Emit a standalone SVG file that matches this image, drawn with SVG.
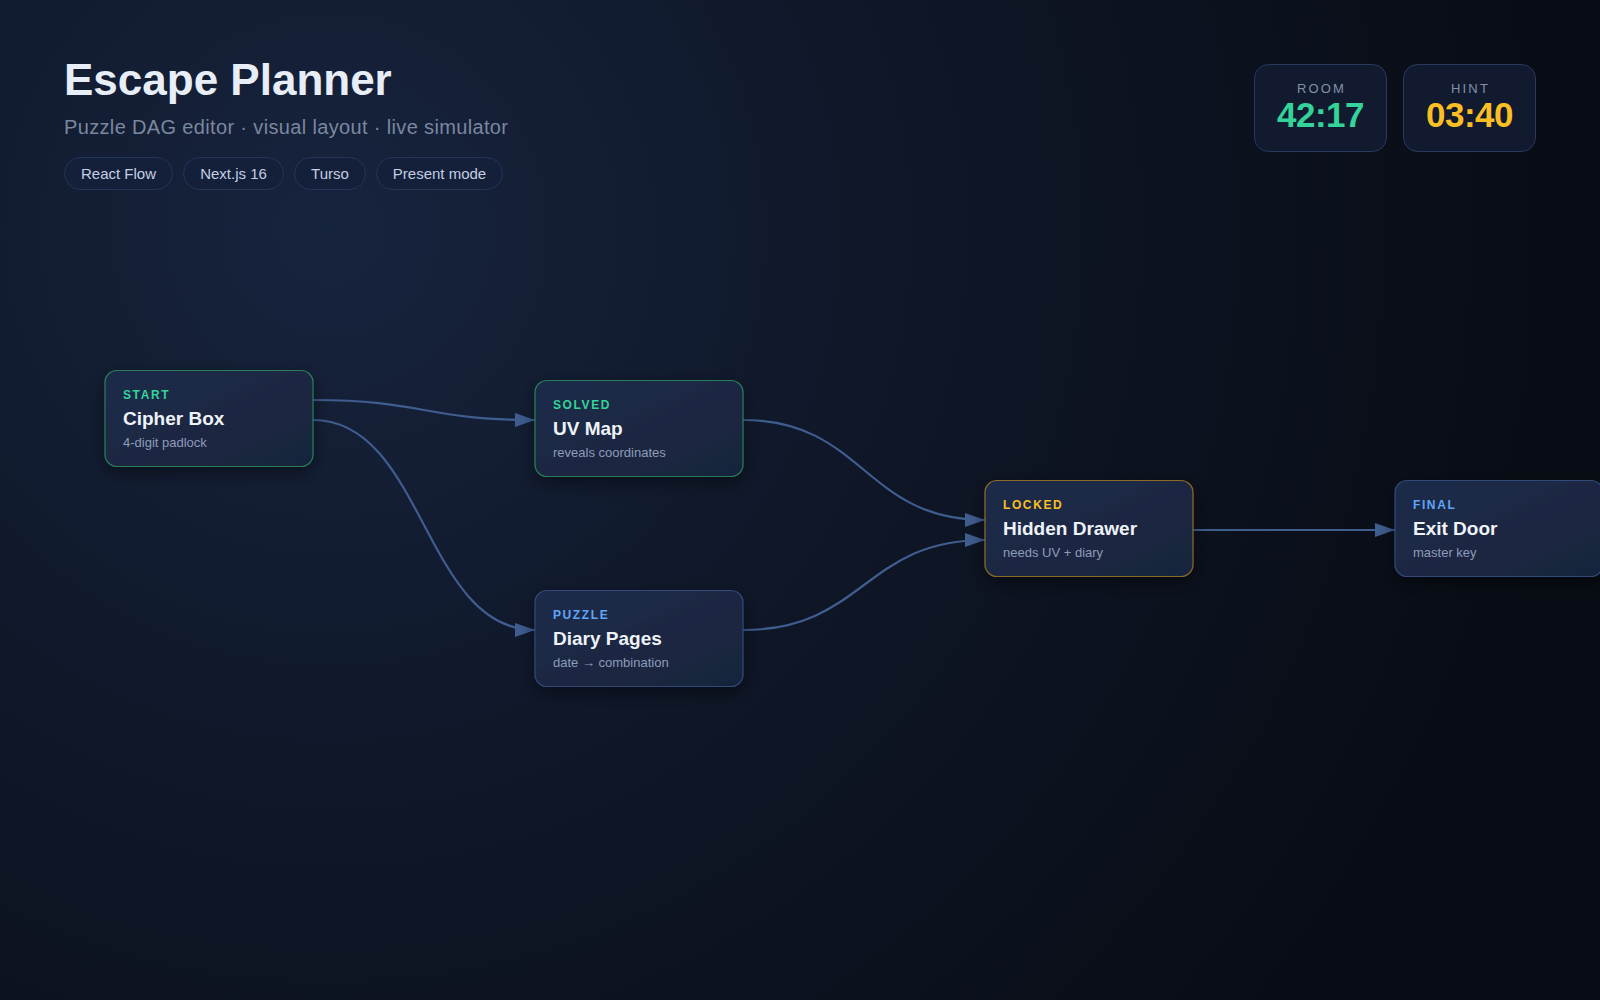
<svg xmlns="http://www.w3.org/2000/svg" width="1600" height="1000" viewBox="0 0 1600 1000">
  <defs>
    <radialGradient id="bg" cx="330" cy="230" r="1250" gradientUnits="userSpaceOnUse">
      <stop offset="0" stop-color="#17243e"/>
      <stop offset="0.45" stop-color="#0f1728"/>
      <stop offset="1" stop-color="#080c14"/>
    </radialGradient>
    <linearGradient id="nodeFill" x1="0" y1="0" x2="1" y2="1">
      <stop offset="0" stop-color="#1f2c4a"/>
      <stop offset="1" stop-color="#18243b"/>
    </linearGradient>
    <filter id="shadow" x="-30%" y="-40%" width="160%" height="190%">
      <feDropShadow dx="0" dy="6" stdDeviation="9" flood-color="#000000" flood-opacity="0.45"/>
    </filter>
    <marker id="arrow" markerUnits="userSpaceOnUse" markerWidth="21" markerHeight="15" refX="20" refY="7.5" orient="auto">
      <path d="M0,0.5 L20,7.5 L0,14.5 z" fill="#3f5d8f"/>
    </marker>
    <style>
      .title { font-family: "Liberation Sans", Arial, Helvetica, sans-serif; font-weight: 700; font-size: 44px; fill: #e8eef8; }
      .subtitle { font-family: "Liberation Sans", Arial, Helvetica, sans-serif; font-size: 20px; letter-spacing: 0.35px; fill: #7a879f; }
      .pill rect { fill: #14203a; stroke: #24345a; stroke-width: 1; }
      .pill text { font-family: "Liberation Sans", Arial, Helvetica, sans-serif; font-size: 15px; fill: #c3cee2; text-anchor: middle; }
      .timer rect { fill: #111a2e; stroke: #2a3a5f; stroke-width: 1; }
      .tlabel { font-family: "Liberation Sans", Arial, Helvetica, sans-serif; font-size: 13px; letter-spacing: 2.2px; fill: #8391ab; text-anchor: middle; }
      .tval { font-family: "Liberation Sans", Arial, Helvetica, sans-serif; font-size: 35px; font-weight: 700; letter-spacing: -0.5px; text-anchor: middle; }
      .node rect { fill: url(#nodeFill); stroke-width: 1.2; filter: url(#shadow); }
      .green rect { stroke: #2a7d57; }
      .amber rect { stroke: #8c6a27; }
      .blue rect { stroke: #30497a; }
      .nlabel { font-family: "Liberation Sans", Arial, Helvetica, sans-serif; font-size: 12px; font-weight: 700; letter-spacing: 1.6px; }
      .green .nlabel { fill: #34d399; }
      .amber .nlabel { fill: #fbbf24; }
      .blue .nlabel { fill: #60a5fa; }
      .ntitle { font-family: "Liberation Sans", Arial, Helvetica, sans-serif; font-size: 19px; font-weight: 700; fill: #eef2f9; }
      .nsub { font-family: "Liberation Sans", Arial, Helvetica, sans-serif; font-size: 13px; fill: #8c9cba; }
      .edge { fill: none; stroke: #3f5d8f; stroke-width: 2.2; marker-end: url(#arrow); }
    </style>
  </defs>

  <rect x="0" y="0" width="1600" height="1000" fill="url(#bg)"/>

  <g id="header">
    <text class="title" x="64" y="95">Escape Planner</text>
    <text class="subtitle" x="64" y="134">Puzzle DAG editor · visual layout · live simulator</text>
    <g class="pill" id="pill-react-flow">
      <rect x="64.5" y="157.5" width="108" height="32" rx="16"/>
      <text x="118.5" y="179">React Flow</text>
    </g>
    <g class="pill" id="pill-next">
      <rect x="183.5" y="157.5" width="100" height="32" rx="16"/>
      <text x="233.5" y="179">Next.js 16</text>
    </g>
    <g class="pill" id="pill-turso">
      <rect x="294.5" y="157.5" width="71" height="32" rx="16"/>
      <text x="330" y="179">Turso</text>
    </g>
    <g class="pill" id="pill-present">
      <rect x="376.5" y="157.5" width="126" height="32" rx="16"/>
      <text x="439.5" y="179">Present mode</text>
    </g>
  </g>

  <g id="timer-room" class="timer">
    <rect x="1254.5" y="64.5" width="132" height="87" rx="14"/>
    <text class="tlabel" x="1321.5" y="93">ROOM</text>
    <text class="tval" x="1320.5" y="127" fill="#34d399">42:17</text>
  </g>
  <g id="timer-hint" class="timer">
    <rect x="1403.5" y="64.5" width="132" height="87" rx="14"/>
    <text class="tlabel" x="1470.5" y="93">HINT</text>
    <text class="tval" x="1469.5" y="127" fill="#fbbf24">03:40</text>
  </g>

  <g id="connectors">
    <path class="edge" d="M313,400 C424,400 424,420 535,420"/>
    <path class="edge" d="M313,420 C424,420 424,630 535,630"/>
    <path class="edge" d="M743,420 C864,420 864,520 985,520"/>
    <path class="edge" d="M743,630 C864,630 864,540 985,540"/>
    <path class="edge" d="M1193,530 L1395,530"/>
  </g>

  <g id="node-cipher-box" class="node green">
    <rect x="105" y="370.5" width="208" height="96" rx="12"/>
    <text class="nlabel" x="123" y="398.5">START</text>
    <text class="ntitle" x="123" y="424.5">Cipher Box</text>
    <text class="nsub" x="123" y="446.5">4-digit padlock</text>
  </g>
  <g id="node-uv-map" class="node green">
    <rect x="535" y="380.5" width="208" height="96" rx="12"/>
    <text class="nlabel" x="553" y="408.5">SOLVED</text>
    <text class="ntitle" x="553" y="434.5">UV Map</text>
    <text class="nsub" x="553" y="456.5">reveals coordinates</text>
  </g>
  <g id="node-diary-pages" class="node blue">
    <rect x="535" y="590.5" width="208" height="96" rx="12"/>
    <text class="nlabel" x="553" y="618.5">PUZZLE</text>
    <text class="ntitle" x="553" y="644.5">Diary Pages</text>
    <text class="nsub" x="553" y="666.5">date → combination</text>
  </g>
  <g id="node-hidden-drawer" class="node amber">
    <rect x="985" y="480.5" width="208" height="96" rx="12"/>
    <text class="nlabel" x="1003" y="508.5">LOCKED</text>
    <text class="ntitle" x="1003" y="534.5">Hidden Drawer</text>
    <text class="nsub" x="1003" y="556.5">needs UV + diary</text>
  </g>
  <g id="node-exit-door" class="node blue">
    <rect x="1395" y="480.5" width="208" height="96" rx="12"/>
    <text class="nlabel" x="1413" y="508.5">FINAL</text>
    <text class="ntitle" x="1413" y="534.5">Exit Door</text>
    <text class="nsub" x="1413" y="556.5">master key</text>
  </g>
</svg>
